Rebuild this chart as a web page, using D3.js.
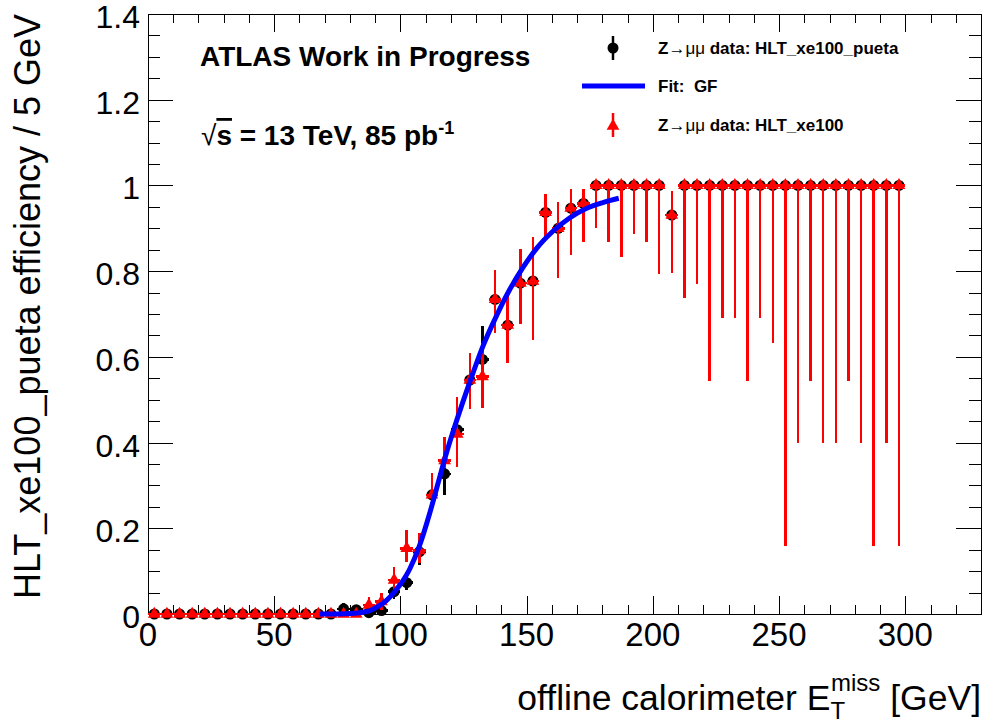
<!DOCTYPE html>
<html>
<head>
<meta charset="utf-8">
<script src="https://cdn.jsdelivr.net/npm/d3@7"></script>
<style>
  body { margin: 0; background: #fff; }
  text { font-family: "Liberation Sans", Arial, Helvetica, sans-serif; }
</style>
</head>
<body>
<div id="chart"></div>
<script>
// bin centres (5 GeV bins)
var binCenters = [2.5, 7.5, 12.5, 17.5, 22.5, 27.5, 32.5, 37.5, 42.5, 47.5,
  52.5, 57.5, 62.5, 67.5, 72.5, 77.5, 82.5, 87.5, 92.5, 97.5,
  102.5, 107.5, 112.5, 117.5, 122.5, 127.5, 132.5, 137.5, 142.5, 147.5,
  152.5, 157.5, 162.5, 167.5, 172.5, 177.5, 182.5, 187.5, 192.5, 197.5,
  202.5, 207.5, 212.5, 217.5, 222.5, 227.5, 232.5, 237.5, 242.5, 247.5,
  252.5, 257.5, 262.5, 267.5, 272.5, 277.5, 282.5, 287.5, 292.5, 297.5];

// HLT_xe100 (red)
var effXe100 = [0, 0, 0, 0, 0, 0, 0, 0, 0, 0,
  0, 0, 0, 0, 0, 0, 0, 0.021, 0.029, 0.079,
  0.153, 0.148, 0.278, 0.358, 0.42, 0.546, 0.554, 0.734, 0.674, 0.772,
  0.777, 0.937, 0.90, 0.947, 0.958, 1, 1, 1, 1, 1,
  1, 0.931, 1, 1, 1, 1, 1, 1, 1, 1,
  1, 1, 1, 1, 1, 1, 1, 1, 1, 1];
var loXe100 = [0, 0, 0, 0, 0, 0, 0, 0, 0, 0,
  0, 0, 0, 0, 0, 0, 0, 0.005, 0.01, 0.052,
  0.122, 0.118, 0.254, 0.34, 0.344, 0.478, 0.481, 0.656, 0.586, 0.676,
  0.639, 0.88, 0.785, 0.838, 0.869, 0.90, 0.869, 0.834, 0.886, 0.869,
  0.793, 0.796, 0.738, 0.769, 0.544, 0.691, 0.691, 0.544, 0.691, 0.633,
  0.159, 0.40, 0.544, 0.40, 0.40, 0.544, 0.40, 0.159, 0.40, 0.159];
var hiXe100 = [0, 0, 0, 0, 0, 0, 0, 0, 0, 0,
  0, 0, 0, 0, 0, 0, 0, 0.04, 0.05, 0.11,
  0.196, 0.188, 0.33, 0.414, 0.507, 0.61, 0.633, 0.803, 0.754, 0.852,
  0.879, 0.979, 0.962, 0.991, 0.991, 1, 1, 1, 1, 1,
  1, 0.988, 1, 1, 1, 1, 1, 1, 1, 1,
  1, 1, 1, 1, 1, 1, 1, 1, 1, 1];

// HLT_xe100_pueta (black)
var effPueta = [0, 0, 0, 0, 0, 0, 0, 0, 0, 0,
  0, 0, 0, 0, 0, 0.012, 0.01, 0.003, 0.008, 0.052,
  0.073, 0.145, 0.278, 0.327, 0.43, 0.546, 0.594, 0.734, 0.674, 0.772,
  0.777, 0.937, 0.90, 0.947, 0.958, 1, 1, 1, 1, 1,
  1, 0.931, 1, 1, 1, 1, 1, 1, 1, 1,
  1, 1, 1, 1, 1, 1, 1, 1, 1, 1];
var loPueta = [0, 0, 0, 0, 0, 0, 0, 0, 0, 0,
  0, 0, 0, 0, 0, 0.004, 0.003, 0, 0.002, 0.035,
  0.055, 0.115, 0.24, 0.278, 0.37, 0.48, 0.52, 0.656, 0.586, 0.676,
  0.639, 0.88, 0.785, 0.838, 0.869, 0.90, 0.869, 0.834, 0.886, 0.869,
  0.793, 0.796, 0.738, 0.769, 0.544, 0.691, 0.691, 0.544, 0.691, 0.633,
  0.159, 0.40, 0.544, 0.40, 0.40, 0.544, 0.40, 0.159, 0.40, 0.159];
var hiPueta = [0, 0, 0, 0, 0, 0, 0, 0, 0, 0,
  0, 0, 0, 0, 0, 0.025, 0.022, 0.012, 0.018, 0.072,
  0.097, 0.18, 0.32, 0.37, 0.49, 0.61, 0.672, 0.803, 0.754, 0.852,
  0.879, 0.979, 0.962, 0.991, 0.991, 1, 1, 1, 1, 1,
  1, 0.988, 1, 1, 1, 1, 1, 1, 1, 1,
  1, 1, 1, 1, 1, 1, 1, 1, 1, 1];

// fit curve (GF)
var fitX = [68, 75, 80, 85, 88, 91, 94.5, 97, 99.7, 103.7, 107.6, 111.6, 114.9,
  118.2, 122.2, 127.4, 132.7, 138, 143.3, 148.5, 153.8, 160.4, 167, 173.6, 180.2, 186.5];
var fitY = [0, 0, 0.001, 0.004, 0.008, 0.017, 0.032, 0.047, 0.067, 0.105, 0.160, 0.235, 0.305,
  0.375, 0.45, 0.54, 0.625, 0.695, 0.757, 0.808, 0.852, 0.893, 0.924, 0.946, 0.960, 0.970];

var xMajor = [0, 50, 100, 150, 200, 250, 300];
var yMajor = [0, 0.2, 0.4, 0.6, 0.8, 1, 1.2, 1.4];
var yLabels = ["0", "0.2", "0.4", "0.6", "0.8", "1", "1.2", "1.4"];

var svgWidth = 986;
var svgHeight = 725;
var frame = { left: 148, right: 981, top: 14, bottom: 614 };
var binHalf = 2.5;

var svg = d3.select("#chart")
  .append("svg")
  .attr("width", svgWidth)
  .attr("height", svgHeight);

var x = d3.scaleLinear().domain([0, 330]).range([frame.left, frame.right]);
var y = d3.scaleLinear().domain([0, 1.4]).range([frame.bottom, frame.top]);

var xMinor = d3.range(0, 331, 10);
var yMinor = d3.range(0, 1.401, 0.05);

// frame ticks
function tickGroup(axis, tr) {
  var g = svg.append("g").attr("transform", tr).call(axis);
  g.select(".domain").remove();
  g.selectAll("line")
    .attr("stroke", "#000")
    .attr("stroke-width", 1)
    .attr("shape-rendering", "crispEdges");
  return g;
}

tickGroup(d3.axisBottom(x).tickValues(xMinor).tickSize(-9).tickFormat(""), `translate(0,${frame.bottom})`);
tickGroup(d3.axisBottom(x).tickValues(xMajor).tickSize(-18).tickFormat(""), `translate(0,${frame.bottom})`);
tickGroup(d3.axisTop(x).tickValues(xMinor).tickSize(-9).tickFormat(""), `translate(0,${frame.top})`);
tickGroup(d3.axisTop(x).tickValues(xMajor).tickSize(-18).tickFormat(""), `translate(0,${frame.top})`);
tickGroup(d3.axisLeft(y).tickValues(yMinor).tickSize(-12).tickFormat(""), `translate(${frame.left},0)`);
tickGroup(d3.axisLeft(y).tickValues(yMajor).tickSize(-25).tickFormat(""), `translate(${frame.left},0)`);
tickGroup(d3.axisRight(y).tickValues(yMinor).tickSize(-12).tickFormat(""), `translate(${frame.right},0)`);
tickGroup(d3.axisRight(y).tickValues(yMajor).tickSize(-25).tickFormat(""), `translate(${frame.right},0)`);

svg.append("rect")
  .attr("x", frame.left)
  .attr("y", frame.top)
  .attr("width", frame.right - frame.left)
  .attr("height", frame.bottom - frame.top)
  .attr("fill", "none")
  .attr("stroke", "#000")
  .attr("stroke-width", 1)
  .attr("shape-rendering", "crispEdges");

// tick labels
svg.append("g").selectAll("text")
  .data(xMajor)
  .enter()
  .append("text")
  .attr("x", d => x(d))
  .attr("y", 646)
  .attr("text-anchor", "middle")
  .attr("font-size", 33)
  .text(d => d);

svg.append("g").selectAll("text")
  .data(yMajor)
  .enter()
  .append("text")
  .attr("x", 140)
  .attr("y", d => y(d) + 14)
  .attr("text-anchor", "end")
  .attr("font-size", 32)
  .text((d, i) => yLabels[i]);

// axis titles
svg.append("text")
  .attr("transform", "rotate(-90)")
  .attr("x", -frame.top)
  .attr("y", 40)
  .attr("text-anchor", "end")
  .attr("font-size", 36)
  .text("HLT_xe100_pueta efficiency / 5 GeV");

var xTitle = svg.append("text")
  .attr("x", frame.right)
  .attr("y", 710)
  .attr("text-anchor", "end")
  .attr("font-size", 35.5);
xTitle.append("tspan").text("offline calorimeter E");
xTitle.append("tspan").attr("font-size", 24).attr("dy", 9).text("T");
xTitle.append("tspan").attr("font-size", 24).attr("dx", -14).attr("dy", -28).text("miss");
xTitle.append("tspan").attr("dy", 19).text(" [GeV]");

// data helpers
function makeRows(eff, lo, hi) {
  return binCenters.map((c, i) => ({ x: c, e: eff[i], lo: lo[i], hi: hi[i] }));
}
var blackRows = makeRows(effPueta, loPueta, hiPueta);
var redRows = makeRows(effXe100, loXe100, hiXe100);

function drawErrors(rows, color) {
  var g = svg.append("g").attr("shape-rendering", "crispEdges");
  g.selectAll(".xerr")
    .data(rows)
    .enter()
    .append("line")
    .attr("x1", d => x(d.x - binHalf))
    .attr("x2", d => x(d.x + binHalf))
    .attr("y1", d => y(d.e))
    .attr("y2", d => y(d.e))
    .attr("stroke", color)
    .attr("stroke-width", 2.5);
  g.selectAll(".yerr")
    .data(rows.filter(d => d.hi > d.lo))
    .enter()
    .append("line")
    .attr("x1", d => x(d.x))
    .attr("x2", d => x(d.x))
    .attr("y1", d => y(d.lo))
    .attr("y2", d => y(d.hi))
    .attr("stroke", color)
    .attr("stroke-width", 2.5);
  return g;
}

// black series
drawErrors(blackRows, "#000");
svg.append("g").selectAll("circle")
  .data(blackRows)
  .enter()
  .append("circle")
  .attr("cx", d => x(d.x))
  .attr("cy", d => y(d.e))
  .attr("r", 5.5)
  .attr("fill", "#000");

// red series
drawErrors(redRows, "#ff0000");
var tri = d3.symbol().type(d3.symbolTriangle).size(70);
svg.append("g").selectAll("path")
  .data(redRows)
  .enter()
  .append("path")
  .attr("d", tri)
  .attr("transform", d => `translate(${x(d.x)},${y(d.e)})`)
  .attr("fill", "#ff0000");

// fit
var fitLine = d3.line()
  .x((d, i) => x(fitX[i]))
  .y(d => y(d))
  .curve(d3.curveMonotoneX);

svg.append("path")
  .datum(fitY)
  .attr("d", fitLine)
  .attr("fill", "none")
  .attr("stroke", "#0000ff")
  .attr("stroke-width", 5);

// labels
svg.append("text")
  .attr("x", 200)
  .attr("y", 66)
  .attr("font-size", 28)
  .attr("font-weight", "bold")
  .text("ATLAS Work in Progress");

var energy = svg.append("text")
  .attr("x", 201)
  .attr("y", 145)
  .attr("font-size", 28)
  .attr("font-weight", "bold");
energy.append("tspan").attr("font-weight", "normal").text("\u221A");
energy.append("tspan").style("text-decoration", "overline").text("s");
energy.append("tspan").text(" = 13 TeV, 85 pb");
energy.append("tspan").attr("font-size", 18).attr("dy", -11).text("-1");

// legend
var legend = svg.append("g");
var legX = 613;
var legText = 658;

legend.append("line")
  .attr("x1", legX).attr("x2", legX)
  .attr("y1", 36).attr("y2", 60)
  .attr("stroke", "#000").attr("stroke-width", 2.5);
legend.append("circle")
  .attr("cx", legX).attr("cy", 48).attr("r", 5.5).attr("fill", "#000");

legend.append("line")
  .attr("x1", 582).attr("x2", 645)
  .attr("y1", 86).attr("y2", 86)
  .attr("stroke", "#0000ff").attr("stroke-width", 5);

legend.append("line")
  .attr("x1", legX).attr("x2", legX)
  .attr("y1", 113).attr("y2", 137)
  .attr("stroke", "#ff0000").attr("stroke-width", 2.5);
legend.append("path")
  .attr("d", tri)
  .attr("transform", `translate(${legX},126)`)
  .attr("fill", "#ff0000");

function legendEntry(yPos, parts) {
  var t = legend.append("text")
    .attr("x", legText)
    .attr("y", yPos)
    .attr("font-size", 17)
    .attr("font-weight", "bold")
    .style("white-space", "pre");
  parts.forEach(function(p) {
    t.append("tspan").attr("font-weight", p[1] ? "bold" : "normal").text(p[0]);
  });
}
legendEntry(54, [["Z", true], ["\u2192\u03BC\u03BC", false], [" data: HLT_xe100_pueta", true]]);
legendEntry(92, [["Fit:\u00A0\u00A0GF", true]]);
legendEntry(131, [["Z", true], ["\u2192\u03BC\u03BC", false], [" data: HLT_xe100", true]]);
</script>
</body>
</html>
